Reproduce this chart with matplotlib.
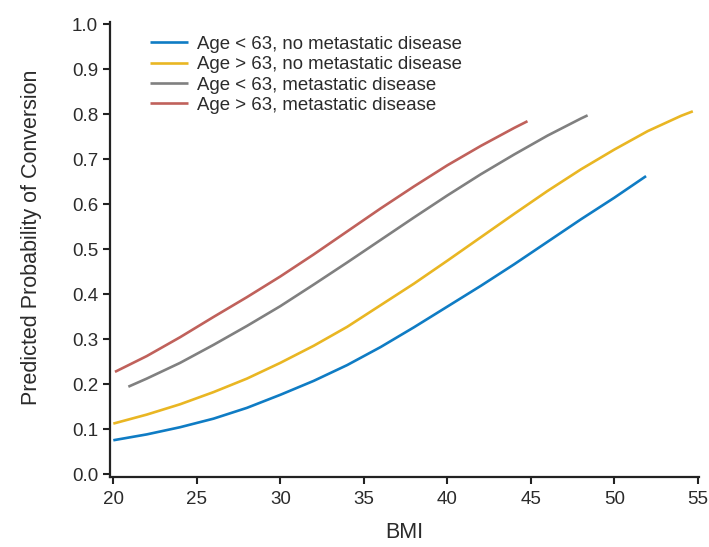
import matplotlib.pyplot as plt

plt.rcParams["font.family"] = ["Liberation Sans", "DejaVu Sans"]

labels = [
    "Age < 63, no metastatic disease",
    "Age > 63, no metastatic disease",
    "Age < 63, metastatic disease",
    "Age > 63, metastatic disease",
]
colors = ["#0f7cc4", "#e9b623", "#808080", "#c0615b"]

bmi_young_nomet = [20, 22, 24, 26, 28, 30, 32, 34, 36, 38, 40, 42, 44, 46, 48, 50, 51.9]
p_young_nomet = [0.075, 0.088, 0.104, 0.123, 0.147, 0.176, 0.207, 0.242, 0.282,
                 0.326, 0.372, 0.418, 0.466, 0.516, 0.566, 0.614, 0.662]

bmi_old_nomet = [20, 22, 24, 26, 28, 30, 32, 34, 36, 38, 40, 42, 44, 46, 48, 50, 52, 54, 54.7]
p_old_nomet = [0.112, 0.132, 0.155, 0.182, 0.212, 0.247, 0.285, 0.327, 0.375, 0.423,
               0.474, 0.526, 0.578, 0.629, 0.677, 0.721, 0.762, 0.796, 0.806]

bmi_young_met = [20.9, 22, 24, 26, 28, 30, 32, 34, 36, 38, 40, 42, 44, 46, 48, 48.4]
p_young_met = [0.194, 0.212, 0.247, 0.287, 0.329, 0.373, 0.421, 0.470, 0.520, 0.570,
               0.619, 0.666, 0.710, 0.752, 0.790, 0.797]

bmi_old_met = [20.1, 22, 24, 26, 28, 30, 32, 34, 36, 38, 40, 42, 44, 44.8]
p_old_met = [0.227, 0.262, 0.304, 0.349, 0.393, 0.439, 0.488, 0.539, 0.590, 0.639,
             0.686, 0.729, 0.769, 0.784]

series = [
    (bmi_young_nomet, p_young_nomet),
    (bmi_old_nomet, p_old_nomet),
    (bmi_young_met, p_young_met),
    (bmi_old_met, p_old_met),
]

x_ticks = [20, 25, 30, 35, 40, 45, 50, 55]
y_ticks = [0.0, 0.1, 0.2, 0.3, 0.4, 0.5, 0.6, 0.7, 0.8, 0.9, 1.0]

text_color = "#2b2b2b"

fig = plt.figure(figsize=(7.09, 5.47), dpi=100)
ax = fig.add_axes([0.1551, 0.1285, 0.8315, 0.8309])

for (x, y), c, lab in zip(series, colors, labels):
    ax.plot(x, y, color=c, lw=1.9, label=lab, solid_capstyle="butt")

ax.set_xlim(19.8, 55.1)
ax.set_ylim(-0.006, 1.004)
ax.set_xticks(x_ticks)
ax.set_yticks(y_ticks)
ax.set_yticklabels([f"{v:.1f}" for v in y_ticks])

for s in ["top", "right"]:
    ax.spines[s].set_visible(False)
for s in ["left", "bottom"]:
    ax.spines[s].set_linewidth(1.6)
    ax.spines[s].set_color("#222222")

ax.tick_params(axis="both", length=5, width=1.5, color="#222222",
               labelsize=13.5, labelcolor=text_color, pad=3.5)
ax.tick_params(axis="x", pad=5.5)

ax.set_xlabel("BMI", fontsize=15.5, color=text_color)
ax.set_ylabel("Predicted Probability of Conversion", fontsize=15.5, color=text_color)
ax.xaxis.set_label_coords(0.5, -0.1)
ax.yaxis.set_label_coords(-0.116, 0.527)

leg = ax.legend(loc="upper left", bbox_to_anchor=(0.068, 0.97), frameon=False,
                fontsize=13.4, handlelength=2.05, handletextpad=0.45,
                labelspacing=0.18, borderaxespad=0, borderpad=0)
for t in leg.get_texts():
    t.set_color(text_color)

fig.savefig("out.png", dpi=100, facecolor="white")
